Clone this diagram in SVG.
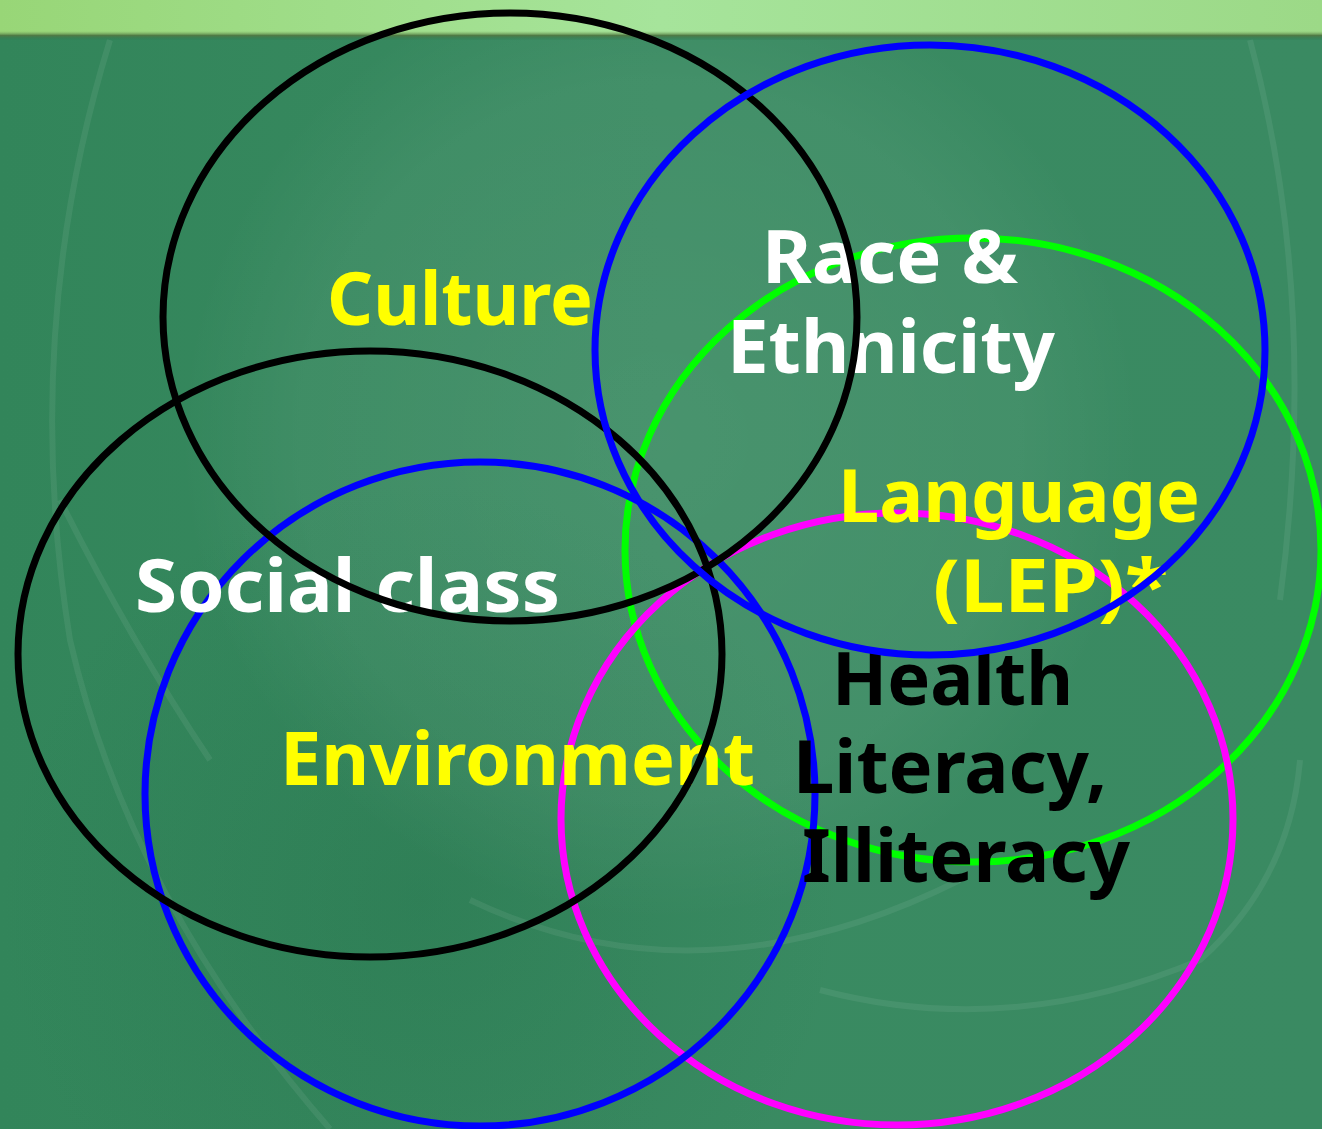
<svg xmlns="http://www.w3.org/2000/svg" width="1322" height="1129" viewBox="0 0 1322 1129">
  <defs>
    <linearGradient id="band" x1="0" y1="0" x2="1" y2="0">
      <stop offset="0" stop-color="#98d677"/>
      <stop offset="0.5" stop-color="#a6e49b"/>
      <stop offset="1" stop-color="#9cd987"/>
    </linearGradient>
    <linearGradient id="bandEdge" x1="0" y1="0" x2="0" y2="1">
      <stop offset="0" stop-color="#7fae62" stop-opacity="0"/>
      <stop offset="0.5" stop-color="#4f7a45"/>
      <stop offset="1" stop-color="#2e7a52" stop-opacity="0.2"/>
    </linearGradient>
    <linearGradient id="bg" x1="0" y1="0" x2="1" y2="0">
      <stop offset="0" stop-color="#32855a"/>
      <stop offset="0.5" stop-color="#398a61"/>
      <stop offset="1" stop-color="#3a8a62"/>
    </linearGradient>
    <radialGradient id="glow" cx="660" cy="440" r="480" gradientUnits="userSpaceOnUse">
      <stop offset="0" stop-color="#ffffff" stop-opacity="0.08"/>
      <stop offset="0.75" stop-color="#ffffff" stop-opacity="0.05"/>
      <stop offset="1" stop-color="#ffffff" stop-opacity="0"/>
    </radialGradient>
    <radialGradient id="darkBL" cx="420" cy="900" r="420" gradientUnits="userSpaceOnUse">
      <stop offset="0" stop-color="#1f6b45" stop-opacity="0.3"/>
      <stop offset="1" stop-color="#1f6b45" stop-opacity="0"/>
    </radialGradient>
  </defs>
  <style>
    .ring { fill: none; stroke-width: 7; }
    .blk { stroke: #000000; }
    .blu { stroke: #0000ff; }
    .grn { stroke: #00ff00; }
    .mag { stroke: #ff00ff; }
    .lbl { font-family: "Noto Sans", "DejaVu Sans", "Liberation Sans", sans-serif; font-weight: bold; font-size: 74px; }
    .yel { fill: #ffff00; }
    .wht { fill: #ffffff; }
    .bk { fill: #000000; }
    .faint { fill: none; stroke: #ffffff; stroke-opacity: 0.07; stroke-width: 6; }
  </style>

  <!-- background -->
  <rect x="0" y="0" width="1322" height="1129" fill="url(#bg)"/>
  <rect x="0" y="0" width="1322" height="1129" fill="url(#darkBL)"/>
  <rect x="0" y="0" width="1322" height="1129" fill="url(#glow)"/>
  <path class="faint" d="M 110 40 Q 20 330 70 640 Q 130 900 330 1129"/>
  <path class="faint" d="M 60 500 Q 130 640 210 760"/>
  <path class="faint" d="M 470 900 Q 700 1010 960 880"/>
  <path class="faint" d="M 820 990 Q 1010 1040 1200 960 Q 1290 880 1300 760"/>
  <path class="faint" d="M 1250 40 Q 1320 300 1280 600"/>
  <rect x="0" y="0" width="1322" height="35" fill="url(#band)"/>
  <rect x="0" y="31" width="1322" height="9" fill="url(#bandEdge)"/>

  <g id="ring-language">
    <ellipse class="ring grn" cx="973" cy="550" rx="348" ry="312"/>
  </g>
  <g id="ring-health-literacy">
    <ellipse class="ring mag" cx="897" cy="819" rx="336" ry="306"/>
  </g>
  <g id="ring-environment">
    <ellipse class="ring blu" cx="480" cy="794" rx="335" ry="332"/>
  </g>

  <g id="labels">
    <text id="t-social" class="lbl wht" x="135" y="612" textLength="425" lengthAdjust="spacingAndGlyphs">Social class</text>
    <text id="t-environment" class="lbl yel" x="280" y="785" textLength="475" lengthAdjust="spacingAndGlyphs">Environment</text>
    <text id="t-culture" class="lbl yel" x="327" y="325" textLength="266" lengthAdjust="spacingAndGlyphs">Culture</text>
    <text id="t-race" class="lbl wht" x="762" y="283" textLength="256" lengthAdjust="spacingAndGlyphs">Race &amp;</text>
    <text id="t-ethnicity" class="lbl wht" x="727" y="373" textLength="328" lengthAdjust="spacingAndGlyphs">Ethnicity</text>
    <text id="t-language" class="lbl yel" x="838" y="522" textLength="362" lengthAdjust="spacingAndGlyphs">Language</text>
    <text id="t-lep" class="lbl yel" x="933" y="612" textLength="235" lengthAdjust="spacingAndGlyphs">(LEP)*</text>
    <text id="t-health" class="lbl bk" x="832" y="705" textLength="241" lengthAdjust="spacingAndGlyphs">Health</text>
    <text id="t-literacy" class="lbl bk" x="793" y="793" textLength="314" lengthAdjust="spacingAndGlyphs">Literacy,</text>
    <text id="t-illiteracy" class="lbl bk" x="802" y="882" textLength="328" lengthAdjust="spacingAndGlyphs">Illiteracy</text>
  </g>

  <g id="ring-social-class">
    <ellipse class="ring blk" cx="370" cy="654" rx="352" ry="303"/>
  </g>
  <g id="ring-culture">
    <ellipse class="ring blk" cx="510" cy="317" rx="347" ry="304"/>
  </g>
  <g id="ring-race">
    <ellipse class="ring blu" cx="930" cy="350" rx="335" ry="305"/>
  </g>
</svg>
